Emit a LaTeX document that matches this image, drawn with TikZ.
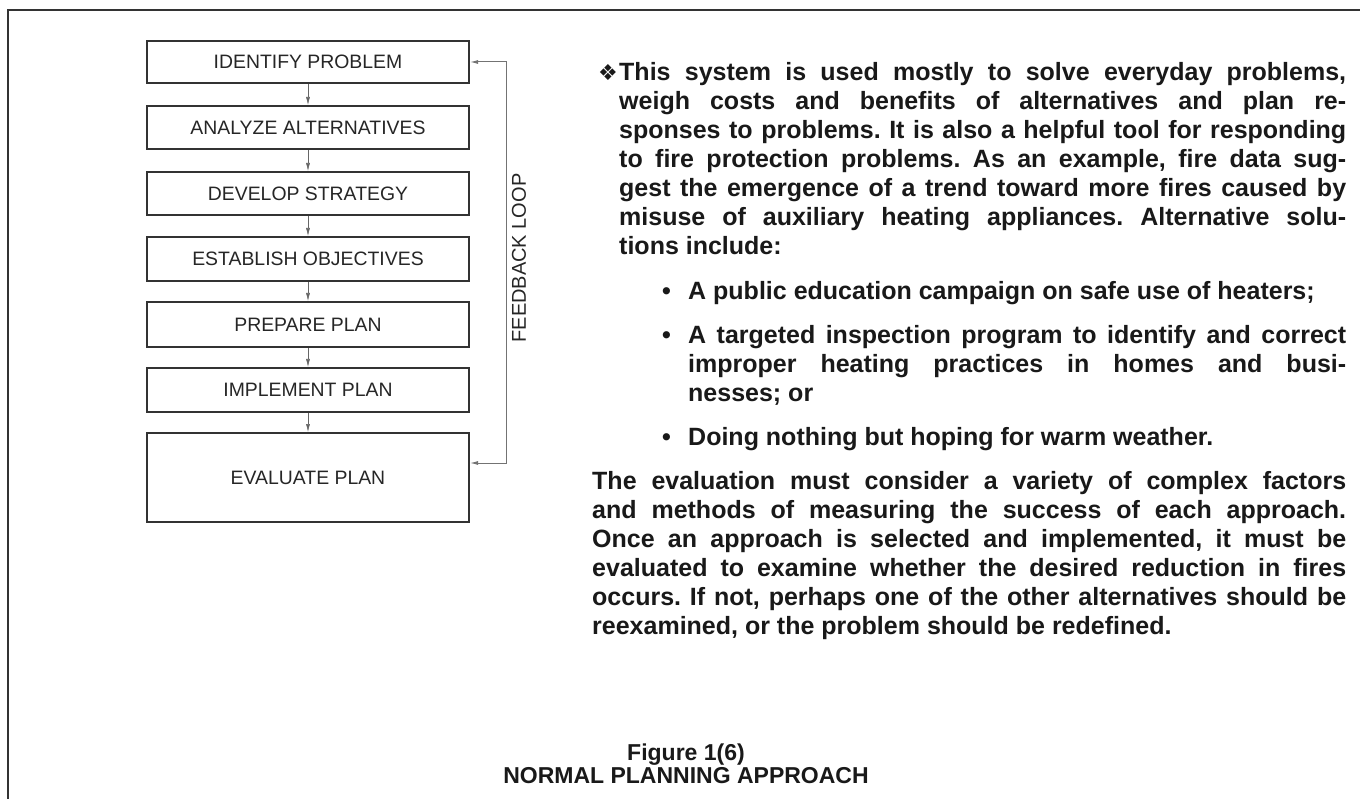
\documentclass[tikz,border=0pt]{standalone}
\usepackage{fontspec}
\setmainfont{Liberation Sans}
\newfontfamily\dejavu{DejaVu Sans}
\usetikzlibrary{arrows.meta}
\frenchspacing
\newcommand{\jl}[5]{\node[body] (#1) at (#2,#3) {\makebox[#4pt][s]{#5}};}
\newcommand{\rl}[4]{\node[body] (#1) at (#2,#3) {#4};}
\begin{document}
\begin{tikzpicture}[x=1pt,y=-1pt,
  framel/.style={line width=2.6pt, draw=black!80},
  stepbox/.style={draw=black!80, line width=2pt, minimum width=322pt, inner sep=0pt,
    font=\fontsize{19.4}{22}\selectfont, text=black!85},
  flow/.style={draw=black!60, line width=0.6pt, -{Latex[length=8pt,width=4pt]}},
  fb/.style={draw=black!55, line width=1pt, {Latex[length=8pt,width=4pt]}-{Latex[length=8pt,width=4pt]}},
  body/.style={font=\fontsize{25}{29}\bfseries\selectfont, text=black!90, inner sep=0pt, anchor=base west},
  captxt/.style={font=\fontsize{23}{23}\bfseries\selectfont, text=black!90, inner sep=0pt, anchor=base},
]
\useasboundingbox (0,0) rectangle (1360,799);
\fill[white] (0,0) rectangle (1360,799);
\draw[framel] (8,805) -- (8,10) -- (1366,10);

% flow boxes
\node[stepbox, minimum height=42pt] (id) at (308,62) {IDENTIFY PROBLEM};
\node[stepbox, minimum height=43pt] (an) at (308,127.5) {ANALYZE ALTERNATIVES};
\node[stepbox, minimum height=43pt] (dv) at (308,193.5) {DEVELOP STRATEGY};
\node[stepbox, minimum height=44pt] (es) at (308,259) {ESTABLISH OBJECTIVES};
\node[stepbox, minimum height=45pt] (pp) at (308,324.5) {PREPARE PLAN};
\node[stepbox, minimum height=44pt] (im) at (308,390) {IMPLEMENT PLAN};
\node[stepbox, minimum height=89pt] (ev) at (308,477.5) {EVALUATE PLAN};

\draw[flow] (id.south) -- (an.north);
\draw[flow] (an.south) -- (dv.north);
\draw[flow] (dv.south) -- (es.north);
\draw[flow] (es.south) -- (pp.north);
\draw[flow] (pp.south) -- (im.north);
\draw[flow] (im.south) -- (ev.north);

\draw[fb] ([yshift=-31pt]ev.north east) -- ++(36,0) |- (id.east);
\node[rotate=90, font=\fontsize{20}{24}\selectfont, text=black!85, inner sep=0pt] (fl) at (519,258) {FEEDBACK LOOP};

% first paragraph
\node[body, anchor=base east, font=\fontsize{22}{29}\dejavu\selectfont] (dia) at (618,81) {❖};
\jl{p1}{619}{81}{727}{This system is used mostly to solve everyday problems,}
\jl{p2}{619}{110}{727}{weigh costs and benefits of alternatives and plan re-}
\jl{p3}{619}{139}{727}{sponses to problems. It is also a helpful tool for responding}
\jl{p4}{619}{168}{727}{to fire protection problems. As an example, fire data sug-}
\jl{p5}{619}{197}{727}{gest the emergence of a trend toward more fires caused by}
\jl{p6}{619}{226}{727}{misuse of auxiliary heating appliances. Alternative solu-}
\rl{p7}{619}{255}{tions include:}

% bullets
\rl{b1d}{662}{300}{•}
\rl{b1}{688}{300}{A public education campaign on safe use of heaters;}
\rl{b2d}{662}{344}{•}
\jl{b2a}{688}{344}{658}{A targeted inspection program to identify and correct}
\jl{b2b}{688}{373}{658}{improper heating practices in homes and busi-}
\rl{b2c}{688}{402}{nesses; or}
\rl{b3d}{662}{446}{•}
\rl{b3}{688}{446}{Doing nothing but hoping for warm weather.}

% second paragraph
\jl{q1}{592}{489}{754}{The evaluation must consider a variety of complex factors}
\jl{q2}{592}{518}{754}{and methods of measuring the success of each approach.}
\jl{q3}{592}{547}{754}{Once an approach is selected and implemented, it must be}
\jl{q4}{592}{576}{754}{evaluated to examine whether the desired reduction in fires}
\jl{q5}{592}{605}{754}{occurs. If not, perhaps one of the other alternatives should be}
\rl{q6}{592}{634}{reexamined, or the problem should be redefined.}

% caption
\node[captxt] (c1) at (686,760) {Figure 1(6)};
\node[captxt] (c2) at (686,783) {NORMAL PLANNING APPROACH};
\end{tikzpicture}
\end{document}
